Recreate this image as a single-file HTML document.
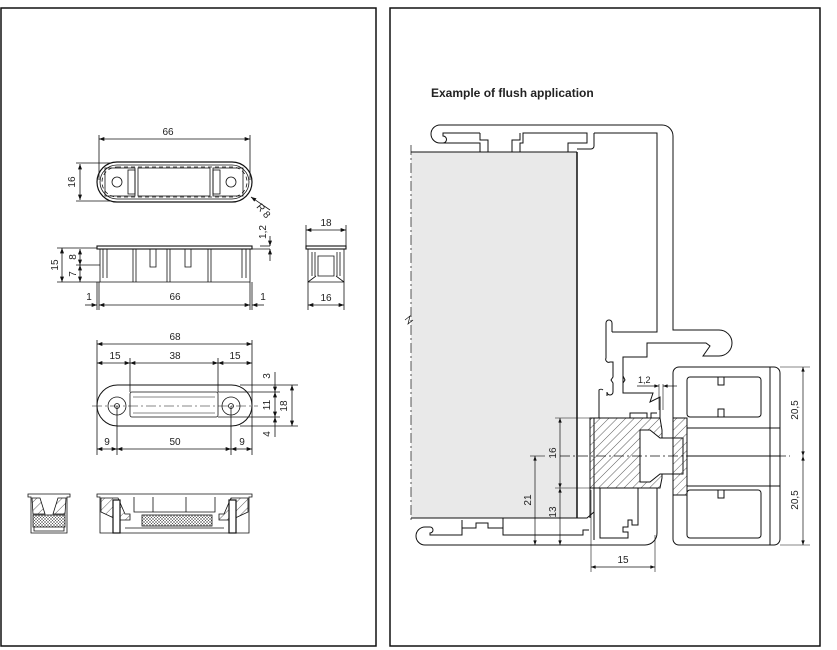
<!DOCTYPE html>
<html><head><meta charset="utf-8"><style>
html,body{margin:0;padding:0;background:#fff;width:837px;height:650px;overflow:hidden}
svg{display:block}
text{font-family:"Liberation Sans",sans-serif;font-size:10px;fill:#222}
</style></head><body>
<svg width="837" height="650" viewBox="0 0 837 650" xmlns="http://www.w3.org/2000/svg">
<defs>
<marker id="a" viewBox="0 0 8 6" refX="8" refY="3" markerWidth="7" markerHeight="5" orient="auto-start-reverse"><path d="M0,0L8,3L0,6z" fill="#111"/></marker>
<pattern id="h" width="6" height="6" patternUnits="userSpaceOnUse" patternTransform="rotate(45)"><line x1="0" y1="0" x2="0" y2="6" stroke="#333" stroke-width="0.8"/></pattern>
<pattern id="x" width="3" height="3" patternUnits="userSpaceOnUse"><path d="M0,0L3,3M3,0L0,3" stroke="#555" stroke-width="0.5"/></pattern>
</defs>
<path d="M1,8H376V646H1Z" fill="none" stroke="#111" stroke-width="1.5"/>
<path d="M390,646V8H820V646Z" fill="none" stroke="#111" stroke-width="1.5"/>

<g stroke="#111" fill="none" stroke-width="0.8">
<!-- top view -->
<rect x="97" y="162" width="155" height="40" rx="20" stroke-width="1.2"/>
<rect x="100" y="165" width="149" height="34" rx="17"/>
<rect x="102" y="167" width="145" height="30" rx="15" stroke-dasharray="4,3"/>
<rect x="138" y="168" width="72" height="28"/>
<rect x="105" y="168" width="30" height="28"/><rect x="213" y="168" width="30" height="28"/>
<rect x="128" y="170" width="7" height="24"/><rect x="213" y="170" width="7" height="24"/>
<circle cx="117" cy="182" r="5"/><circle cx="231" cy="182" r="5"/>
<line x1="99" y1="139" x2="250" y2="139" marker-start="url(#a)" marker-end="url(#a)"/>
<line x1="99" y1="135" x2="99" y2="180"/><line x1="250" y1="135" x2="250" y2="180"/>
<line x1="80" y1="164" x2="80" y2="200" marker-start="url(#a)" marker-end="url(#a)"/>
<line x1="76" y1="163" x2="110" y2="163"/><line x1="76" y1="201" x2="110" y2="201"/>
<line x1="270" y1="210" x2="251" y2="197" marker-end="url(#a)"/>
<!-- side view -->
<rect x="97" y="246" width="155" height="3" stroke-width="1.1"/>
<path d="M100,249V282H250V249"/>
<path d="M103,249V278M107,249V278M133,249V282M136,249V282M150,249V267H156V249M167,249V282M170,249V282M185,249V267H191V249M208,249V282M211,249V282M242,249V278M246,249V278"/>
<line x1="62" y1="248" x2="62" y2="282" marker-start="url(#a)" marker-end="url(#a)"/>
<line x1="80" y1="249" x2="80" y2="265" marker-start="url(#a)" marker-end="url(#a)"/>
<line x1="80" y1="265" x2="80" y2="282" marker-start="url(#a)" marker-end="url(#a)"/>
<line x1="57" y1="248" x2="97" y2="248"/><line x1="57" y1="282" x2="100" y2="282"/><line x1="76" y1="265" x2="100" y2="265"/>
<line x1="97" y1="282" x2="97" y2="310"/><line x1="99" y1="282" x2="99" y2="310"/><line x1="250" y1="282" x2="250" y2="310"/><line x1="252" y1="282" x2="252" y2="310"/>
<line x1="99" y1="305" x2="250" y2="305" marker-start="url(#a)" marker-end="url(#a)"/>
<line x1="85" y1="305" x2="97" y2="305" marker-end="url(#a)"/><line x1="264" y1="305" x2="252" y2="305" marker-end="url(#a)"/>
<line x1="270" y1="246" x2="260" y2="246"/><line x1="270" y1="249" x2="252" y2="249"/>
<line x1="270" y1="236" x2="270" y2="246" marker-end="url(#a)"/><line x1="270" y1="261" x2="270" y2="249" marker-end="url(#a)"/>
<!-- end view -->
<rect x="306" y="246" width="40" height="3" stroke-width="1.1"/>
<path d="M308,249V282H344V249M312,252V276M315,252V276M340,252V276M337,252V276M318,256H334V276H318Z M308,282L316,276M344,282L336,276"/>
<line x1="306" y1="230" x2="346" y2="230" marker-start="url(#a)" marker-end="url(#a)"/>
<line x1="306" y1="225" x2="306" y2="246"/><line x1="346" y1="225" x2="346" y2="246"/>
<line x1="308" y1="305" x2="344" y2="305" marker-start="url(#a)" marker-end="url(#a)"/>
<line x1="308" y1="282" x2="308" y2="310"/><line x1="344" y1="282" x2="344" y2="310"/>
<!-- plate -->
<rect x="97" y="385" width="155" height="41" rx="20.5" stroke-width="1"/>
<rect x="130" y="392" width="88" height="25" rx="2"/>
<line x1="133" y1="397" x2="215" y2="397" stroke-width="0.5"/><line x1="133" y1="413" x2="215" y2="413" stroke-width="0.5"/>
<circle cx="117" cy="406" r="9"/><circle cx="117" cy="406" r="2.5"/>
<circle cx="231" cy="406" r="9"/><circle cx="231" cy="406" r="2.5"/>
<line x1="92" y1="406" x2="258" y2="406" stroke-dasharray="10,3,2,3" stroke-width="0.6"/>
<line x1="97" y1="340" x2="97" y2="455"/><line x1="252" y1="340" x2="252" y2="455"/>
<line x1="130" y1="358" x2="130" y2="392"/><line x1="218" y1="358" x2="218" y2="392"/>
<line x1="117" y1="406" x2="117" y2="455"/><line x1="231" y1="406" x2="231" y2="455"/>
<line x1="97" y1="344" x2="252" y2="344" marker-start="url(#a)" marker-end="url(#a)"/>
<line x1="97" y1="363" x2="130" y2="363" marker-start="url(#a)" marker-end="url(#a)"/>
<line x1="130" y1="363" x2="218" y2="363" marker-start="url(#a)" marker-end="url(#a)"/>
<line x1="218" y1="363" x2="252" y2="363" marker-start="url(#a)" marker-end="url(#a)"/>
<line x1="97" y1="449" x2="117" y2="449" marker-start="url(#a)" marker-end="url(#a)"/>
<line x1="117" y1="449" x2="231" y2="449" marker-start="url(#a)" marker-end="url(#a)"/>
<line x1="231" y1="449" x2="252" y2="449" marker-start="url(#a)" marker-end="url(#a)"/>
<line x1="240" y1="385" x2="298" y2="385"/><line x1="218" y1="392" x2="280" y2="392"/><line x1="218" y1="417" x2="280" y2="417"/><line x1="240" y1="426" x2="298" y2="426"/>
<line x1="275" y1="372" x2="275" y2="392" marker-end="url(#a)"/>
<line x1="275" y1="392" x2="275" y2="417" marker-start="url(#a)" marker-end="url(#a)"/>
<line x1="275" y1="437" x2="275" y2="417" marker-end="url(#a)"/>
<line x1="292" y1="385" x2="292" y2="426" marker-start="url(#a)" marker-end="url(#a)"/>
<!-- sections -->
<path d="M28,494H70V497H67V533H31V497H28Z" fill="#fff"/>
<rect x="33" y="515" width="32" height="12" fill="url(#x)"/>
<path d="M32,498L40,498L45,514H33Z M66,498L58,498L53,514H65Z" fill="url(#h)"/>
<path d="M34,527V531H64V527"/>
<path d="M97,494H252V497H249V533H100V497H97Z" fill="#fff"/>
<rect x="142" y="515" width="70" height="11" fill="url(#x)"/>
<path d="M101,498H118L125,514H130V520H118L101,512Z M248,498H231L224,514H219V520H231L248,512Z" fill="url(#h)"/>
<rect x="113" y="500" width="7" height="33" fill="#fff" stroke-width="1.2"/><rect x="229" y="500" width="7" height="33" fill="#fff" stroke-width="1.2"/>
<path d="M134,497V512H215V497M153,497V512M186,497V512M125,528H224"/>
</g>
<g>
<text x="168" y="135" text-anchor="middle">66</text>
<text x="76" y="182" text-anchor="middle" transform="rotate(-90 76 182)" dy="-1">16</text>
<text x="256" y="207" transform="rotate(50 256 207)">R 8</text>
<text x="175" y="300" text-anchor="middle">66</text>
<text x="89" y="300" text-anchor="middle">1</text>
<text x="263" y="300" text-anchor="middle">1</text>
<text x="58" y="265" text-anchor="middle" transform="rotate(-90 58 265)">15</text>
<text x="76" y="257" text-anchor="middle" transform="rotate(-90 76 257)">8</text>
<text x="76" y="274" text-anchor="middle" transform="rotate(-90 76 274)">7</text>
<text x="266" y="232" text-anchor="middle" transform="rotate(-90 266 232)">1,2</text>
<text x="326" y="226" text-anchor="middle">18</text>
<text x="326" y="301" text-anchor="middle">16</text>
<text x="175" y="340" text-anchor="middle">68</text>
<text x="115" y="359" text-anchor="middle">15</text>
<text x="175" y="359" text-anchor="middle">38</text>
<text x="235" y="359" text-anchor="middle">15</text>
<text x="107" y="445" text-anchor="middle">9</text>
<text x="175" y="445" text-anchor="middle">50</text>
<text x="242" y="445" text-anchor="middle">9</text>
<text x="270" y="376" text-anchor="middle" transform="rotate(-90 270 376)">3</text>
<text x="270" y="405" text-anchor="middle" transform="rotate(-90 270 405)">11</text>
<text x="287" y="406" text-anchor="middle" transform="rotate(-90 287 406)">18</text>
<text x="270" y="434" text-anchor="middle" transform="rotate(-90 270 434)">4</text>
</g>

<!-- right panel -->
<text x="431" y="97" style="font-weight:bold;font-size:12px">Example of flush application</text>
<rect x="411" y="152" width="166" height="366" fill="#e9e9e9"/>
<g stroke="#111" fill="none" stroke-width="1">
<line x1="577" y1="152" x2="577" y2="518" stroke-width="1.5"/>
<line x1="411" y1="145" x2="411" y2="522" stroke-dasharray="10,3,2,3" stroke-width="0.7"/>
<path d="M405,320L410,316L408,324L413,320" stroke-width="0.7"/>
<line x1="411" y1="152" x2="577" y2="152"/><line x1="411" y1="518" x2="577" y2="518"/>
<!-- top profile -->
<path d="M440,125H662A11,11 0 0 1 673,136V330H719A13,13 0 0 1 719,356H703L710,346L706,343H647V357H623V390"/>
<path d="M440,125A9,9 0 0 0 440,143H443A3,3 0 0 0 443,136V133H480"/>
<path d="M443,143H480V152M520,152V143H523V133H587V143H568V152"/>
<path d="M480,133V140H488V152M520,133V140H512V152"/>
<path d="M594,133V146A3,3 0 0 1 591,149H577M594,133H657V332H612"/>
<!-- mid profile -->
<path d="M612,332V323A3,3 0 0 0 606,323V358A3,3 0 0 0 610,362H613V377L611,380L613,383V392A3,3 0 0 1 607,392V396"/>
<path d="M603,390A3,3 0 0 0 599,390V418"/>
<path d="M623,390V376L625,380L623,383V393H653L650,402L660,397V418"/>
<!-- joint lines left of block -->
<path d="M594,418V518M590,418V518"/>
<!-- bottom profile -->
<path d="M411,518H587L594,512V540"/>
<path d="M594,545H425A9,9 0 0 1 425,527H430A3,3 0 0 1 430,533V535H462V520M462,535V528H476V523H488V528H503V535H583V530H589"/>
<path d="M503,518V528"/>
<path d="M594,545H645A12,12 0 0 0 657,533V488"/>
<path d="M600,488V538H628V532H623V527H628V520H632V525H638V488"/>
<!-- hatched block -->
<path d="M590,418H660L662,430V478L660,488H590Z" fill="url(#h)"/>
<path d="M640,430H650L660,438H683V474H660L650,482H640Z" fill="#fff"/>
<rect x="673" y="418" width="14" height="77" fill="url(#h)"/>
<path d="M630,418V413H647V418M651,418V413H657"/>
<!-- right box -->
<rect x="673" y="367" width="107" height="178" rx="6"/>
<rect x="687" y="377" width="74" height="40" rx="3"/>
<rect x="687" y="490" width="74" height="48" rx="3"/>
<path d="M718,377V385H724V377M718,417V409H724V417M718,490V498H724V490"/>
<path d="M687,428H780M687,486H780M770,367V545"/>
<line x1="560" y1="456" x2="790" y2="456" stroke-dasharray="10,3,2,3" stroke-width="0.7"/>
<line x1="687" y1="456" x2="780" y2="456"/>
<!-- dims -->
<line x1="780" y1="367" x2="810" y2="367" stroke-width="0.6"/><line x1="780" y1="545" x2="810" y2="545" stroke-width="0.6"/>
<line x1="803" y1="367" x2="803" y2="456" marker-start="url(#a)" marker-end="url(#a)" stroke-width="0.7"/>
<line x1="803" y1="456" x2="803" y2="545" marker-start="url(#a)" marker-end="url(#a)" stroke-width="0.7"/>
<line x1="555" y1="418" x2="590" y2="418" stroke-width="0.6"/><line x1="555" y1="488" x2="590" y2="488" stroke-width="0.6"/>
<line x1="530" y1="456" x2="545" y2="456" stroke-width="0.6"/><line x1="530" y1="545" x2="590" y2="545" stroke-width="0.6"/>
<line x1="560" y1="418" x2="560" y2="488" marker-start="url(#a)" marker-end="url(#a)" stroke-width="0.7"/>
<line x1="560" y1="488" x2="560" y2="545" marker-start="url(#a)" marker-end="url(#a)" stroke-width="0.7"/>
<line x1="535" y1="456" x2="535" y2="545" marker-start="url(#a)" marker-end="url(#a)" stroke-width="0.7"/>
<line x1="591" y1="490" x2="591" y2="572" stroke-width="0.6"/><line x1="655" y1="535" x2="655" y2="572" stroke-width="0.6"/>
<line x1="591" y1="567" x2="655" y2="567" marker-start="url(#a)" marker-end="url(#a)" stroke-width="0.7"/>
<line x1="659" y1="384" x2="659" y2="410" stroke-width="0.6"/><line x1="663" y1="384" x2="663" y2="410" stroke-width="0.6"/>
<line x1="637" y1="386" x2="659" y2="386" marker-end="url(#a)" stroke-width="0.7"/><line x1="677" y1="386" x2="663" y2="386" marker-end="url(#a)" stroke-width="0.7"/>
</g>
<text x="638" y="383" style="font-size:9px">1,2</text>
<text x="556" y="453" text-anchor="middle" transform="rotate(-90 556 453)">16</text>
<text x="531" y="500" text-anchor="middle" transform="rotate(-90 531 500)">21</text>
<text x="556" y="512" text-anchor="middle" transform="rotate(-90 556 512)">13</text>
<text x="623" y="563" text-anchor="middle">15</text>
<text x="798" y="410" text-anchor="middle" transform="rotate(-90 798 410)">20,5</text>
<text x="798" y="500" text-anchor="middle" transform="rotate(-90 798 500)">20,5</text>
</svg>
</body></html>
